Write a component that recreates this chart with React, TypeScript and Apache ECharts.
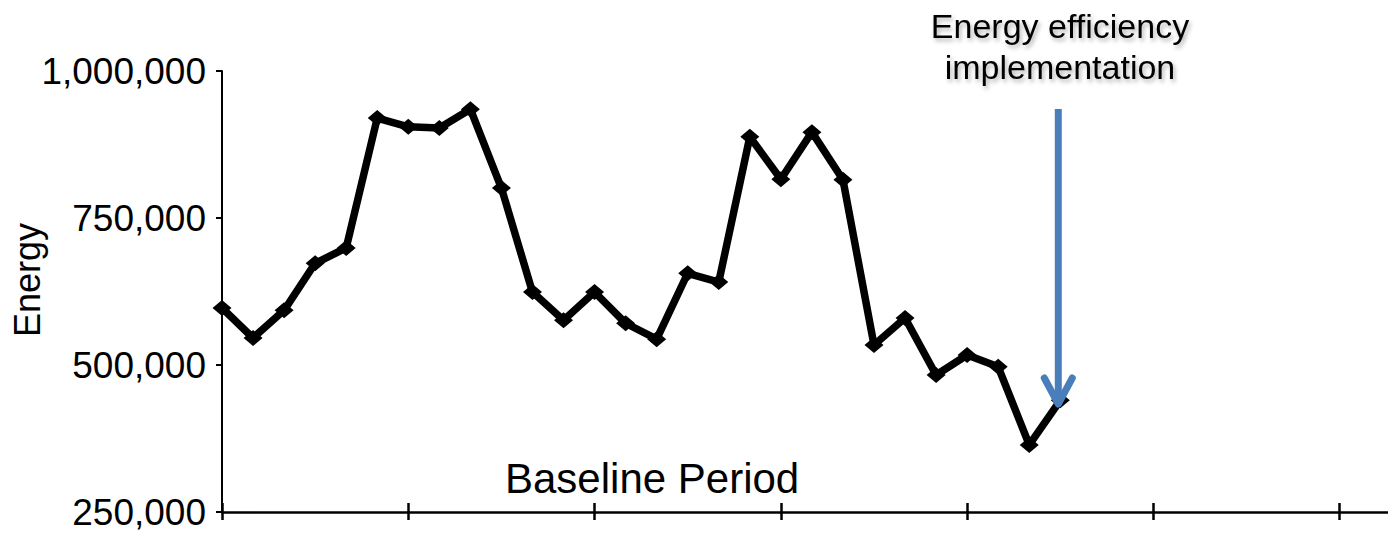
import React, { useEffect, useRef } from 'react';
import * as echarts from 'echarts';

const periods = [0, 1, 2, 3, 4, 5, 6, 7, 8, 9, 10, 11, 12, 13, 14, 15, 16, 17, 18, 19, 20, 21, 22, 23, 24, 25, 26, 27];
const energy = [
  597000, 546000, 593000, 673000, 699000, 920000, 905000, 903000, 935000, 801000,
  624000, 576000, 624000, 571000, 544000, 656000, 641000, 888000, 816000, 896000,
  815000, 534000, 580000, 483000, 517000, 497000, 364000, 440000,
];
const yTicks = [250000, 500000, 750000, 1000000];
const xTickStep = 6;
const xMax = 42;
const yAxisName = 'Energy';
const periodLabel = 'Baseline Period';
const annotationLines = ['Energy efficiency', 'implementation'];
const implementationPeriod = 27;

const FONT = '"Liberation Sans", Arial, sans-serif';

export default function App() {
  const ref = useRef<HTMLDivElement>(null);

  useEffect(() => {
    if (!ref.current) return;
    const chart = echarts.init(ref.current, undefined, { renderer: 'svg' });
    const axisColor = '#000';
    const option: any = {
      animation: false,
      backgroundColor: '#ffffff',
      grid: {
        left: 222,
        top: 71,
        height: 441,
        right: -138,
        containLabel: false,
        outerBoundsMode: 'none',
      },
      xAxis: [
        {
          type: 'value',
          position: 'bottom',
          min: 0,
          max: xMax,
          interval: xTickStep,
          axisLine: { show: true, lineStyle: { color: axisColor, width: 2.5 } },
          axisTick: { show: true, length: 8, lineStyle: { color: axisColor, width: 2.5 } },
          axisLabel: { show: false },
          splitLine: { show: false },
        },
        {
          type: 'value',
          position: 'bottom',
          min: 0,
          max: xMax,
          interval: xTickStep,
          axisLine: { show: false },
          axisTick: { show: true, inside: true, length: 9, lineStyle: { color: axisColor, width: 2.5 } },
          axisLabel: { show: false },
          splitLine: { show: false },
        },
      ],
      yAxis: {
        type: 'value',
        min: yTicks[0],
        max: yTicks[yTicks.length - 1],
        interval: yTicks[1] - yTicks[0],
        axisLine: { show: true, lineStyle: { color: axisColor, width: 2 } },
        axisTick: { show: true, length: 6, lineStyle: { color: axisColor, width: 2 } },
        axisLabel: {
          color: '#000',
          fontSize: 37,
          fontFamily: FONT,
          margin: 16,
          formatter: (v: number) => v.toLocaleString('en-US'),
        },
        splitLine: { show: false },
      },
      series: [
        {
          type: 'line',
          data: periods.map((p, i) => [p, energy[i]]),
          xAxisIndex: 0,
          color: '#000',
          lineStyle: { color: '#000', width: 7.5 },
          symbol: 'diamond',
          symbolSize: [19, 16],
          itemStyle: { color: '#000' },
          z: 3,
        },
      ],
    };
    chart.setOption(option);

    const ax = chart.convertToPixel({ xAxisIndex: 0 }, implementationPeriod) as number;
    const arrowX = ax - 2;
    const arrowTop = 109;
    const arrowTip = 404;
    const blue = '#4A7EBB';

    chart.setOption({
      graphic: [
        {
          type: 'text',
          x: 27,
          y: 280,
          rotation: Math.PI / 2,
          style: {
            text: yAxisName,
            fill: '#000',
            font: `36px ${FONT}`,
            align: 'center',
            verticalAlign: 'middle',
          },
        },
        {
          type: 'text',
          x: 505,
          y: 478,
          style: {
            text: periodLabel,
            fill: '#000',
            font: `42px ${FONT}`,
            align: 'left',
            verticalAlign: 'middle',
          },
        },
        ...annotationLines.map((t, i) => ({
          type: 'text',
          x: 1060,
          y: 26 + i * 41,
          z: 10,
          style: {
            text: t,
            fill: '#000',
            font: `34px ${FONT}`,
            align: 'center',
            verticalAlign: 'middle',
            textShadowColor: 'rgba(0,0,0,0.3)',
            textShadowBlur: 4,
            textShadowOffsetX: 2,
            textShadowOffsetY: 3,
          },
        })),
        {
          type: 'line',
          z: 20,
          shape: { x1: arrowX, y1: arrowTop, x2: arrowX, y2: arrowTip - 3 },
          style: { stroke: blue, lineWidth: 7, lineCap: 'butt' },
        },
        {
          type: 'polyline',
          z: 20,
          shape: {
            points: [
              [arrowX - 14, arrowTip - 26],
              [arrowX, arrowTip],
              [arrowX + 14, arrowTip - 26],
            ],
          },
          style: { stroke: blue, fill: 'none', lineWidth: 7, lineCap: 'round', lineJoin: 'round' },
        },
      ],
    });

    return () => chart.dispose();
  }, []);

  return (
    <div
      ref={ref}
      style={{ position: 'absolute', left: 0, top: 0, width: 1388, height: 534, overflow: 'hidden' }}
    />
  );
}
